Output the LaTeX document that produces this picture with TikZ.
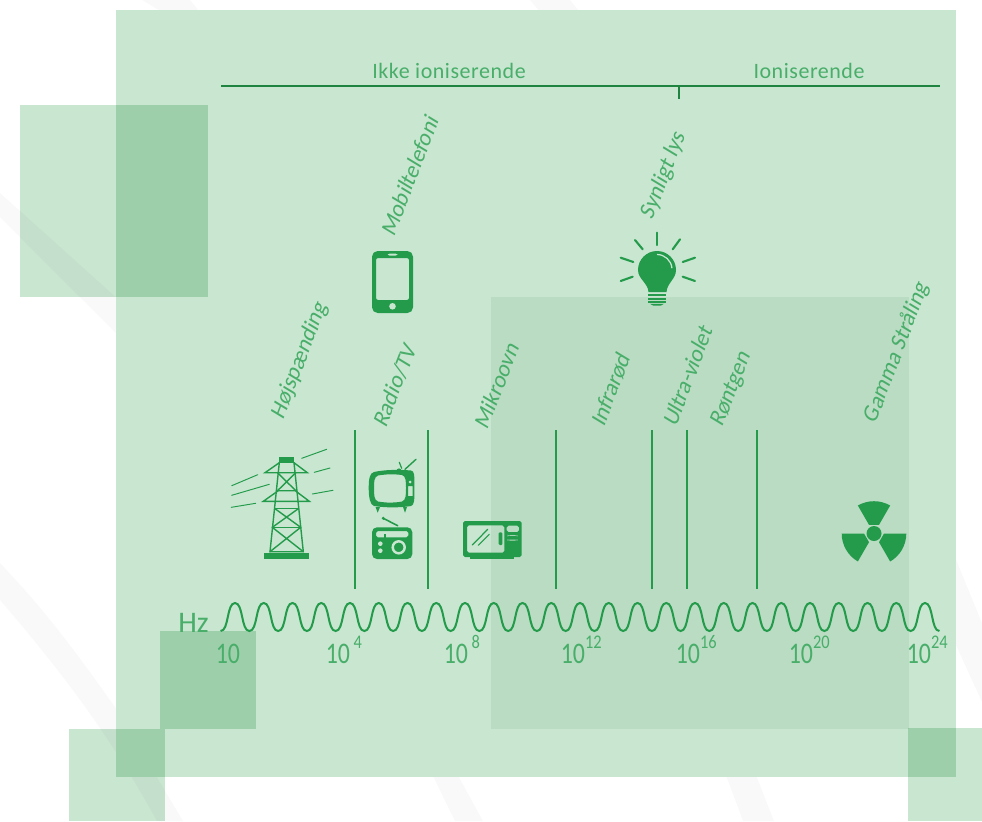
\documentclass[tikz,border=0pt]{standalone}
\usepackage{fontspec}
\usepackage{graphicx}
\setmainfont{Carlito}
\newfontfamily\spaced[LetterSpace=2.5]{Carlito}
\usepackage{xcolor}
\definecolor{leaf}{HTML}{239B4B}
\definecolor{leaftext}{HTML}{48AE69}
\definecolor{pale}{HTML}{C9E6D1}
\definecolor{tint}{HTML}{EBF4EE}
\definecolor{swoosh}{HTML}{F9F9F9}
\newcommand{\ten}{\scalebox{0.8}[1]{10}}
\newcommand{\power}[2][0pt]{\ten\hspace{#1}\raisebox{8.4pt}{\scalebox{0.85}[1]{\fontsize{11}{11}\selectfont #2}}}

\begin{document}
\begin{tikzpicture}[
    x=0.02cm, y=-0.02cm,
    square/.style={fill=pale, blend mode=multiply},
    sep/.style={leaf, line width=1.1pt},
    icon/.style={fill=leaf},
    hole/.style={fill=pale},
    thin line/.style={leaf, line width=0.55pt, line cap=round},
    ray/.style={leaf, line width=1.2pt, line cap=round},
    band/.style={font=\spaced\fontsize{12.5}{12.5}\selectfont, text=leaftext, inner sep=0pt, anchor=base},
    tilted/.style={font=\fontsize{13}{13}\selectfont, text=leaftext, inner sep=0pt, rotate=69, xslant=0.18},
    freq/.style={font=\fontsize{17}{17}\selectfont, text=leaftext, inner sep=0pt, anchor=base west}
]
\path[use as bounding box] (0,0) rectangle (982,821);

% ================================================================
%  Background
% ================================================================
\fill[swoosh] (142,0) -- (190,0) -- (200,12) -- (162,12) -- cycle;
\fill[swoosh] (530,0) -- (570,0) -- (580,12) -- (540,12) -- cycle;
\fill[swoosh] (0,193) -- (130,310) -- (116,333) -- (0,217) -- cycle;
\fill[swoosh] (0,563) .. controls (50,615) and (85,665) .. (115,707) -- (183,821) -- (157,821)
    .. controls (110,735) and (60,670) .. (0,600) -- cycle;
\fill[swoosh] (430,770) -- (455,770) -- (483,821) -- (455,821) -- cycle;
\fill[swoosh] (724,770) -- (754,770) -- (774,821) -- (743,821) -- cycle;
\fill[swoosh] (950,545) -- (982,623) -- (982,702) -- (950,632) -- cycle;

\fill[pale] (116,10) rectangle (956,777);
\fill[square] (20,105) rectangle (208,297);
\fill[square] (160,631) rectangle (256,729);
\fill[square] (69,729) rectangle (165,821);
\fill[square] (908,728) rectangle (982,821);
\fill[tint, blend mode=multiply] (491,297) rectangle (909,729);

% ================================================================
%  Top scale
% ================================================================
\node[band] (ikke) at (449,78) {Ikke ioniserende};
\node[band] (ion) at (809,78) {Ioniserende};
\coordinate (ruleL) at (221,86);
\coordinate (ruleR) at (940,86);
\coordinate (tickA) at (679,86);
\coordinate (tickB) at (679,99);
\draw[sep, line width=1.2pt, black!15!leaf] (ruleL) -- (ruleR);
\draw[sep, black!15!leaf] (tickA) -- (tickB);

% Separators
\foreach \x in {355,428,556,652,687,757} {
    \draw[sep] (\x,430) -- (\x,589);
}

% Labels
\node[tilted] (lHoej) at (300,360) {Højspænding};
\node[tilted] (lMobil) at (410,175) {Mobiltelefoni};
\node[tilted] (lRadio) at (395,385) {Radio/TV};
\node[tilted] (lMikro) at (497,385) {Mikroovn};
\node[tilted] (lInfra) at (611,389) {Infrarød};
\node[tilted] (lUltra) at (688,375) {Ultra-violet};
\node[tilted] (lRoent) at (732,389) {Røntgen};
\node[tilted] (lLys) at (664,175) {Synligt lys};
\node[tilted] (lGamma) at (897,352) {Gamma Stråling};

% ================================================================
%  Wave and frequencies
% ================================================================
\draw[leaf, line width=1.15pt] (220.6,631) \foreach \n in {0,...,24} {
    .. controls ({220.6+28.75*\n+8.5},631) and ({235+28.75*\n-8.5},603) .. ({235+28.75*\n},603)
    .. controls ({235+28.75*\n+8.5},603) and ({249.4+28.75*\n-8.5},631) .. ({249.4+28.75*\n},631)
};
\node[freq] (hz) at (178,632) {Hz};
\node[freq] (f1) at (215.5,663) {\ten};
\node[freq] (f2) at (325.5,663) {\power[2pt]{4}};
\node[freq] (f3) at (443.5,663) {\power[2pt]{8}};
\node[freq] (f4) at (560.5,663) {\power{12}};
\node[freq] (f5) at (675.5,663) {\power{16}};
\node[freq] (f6) at (788.5,663) {\power{20}};
\node[freq] (f7) at (906.5,663) {\power{24}};

% ================================================================
%  Icons
% ================================================================
% Phone
\fill[icon, rounded corners=3.2pt, even odd rule] (372,251) rectangle (413,313)
    [rounded corners=1.2pt] (376,258) rectangle (409,300)
    (387,253.7) rectangle (398,255.5);
\fill[hole] (392.5,306.3) circle (3.3);

% Bulb
\fill[icon] (648.5,292) .. controls (648,283) and (638,279) .. (638,270)
    arc[start angle=180, end angle=360, radius=19]
    .. controls (676,279) and (667,283) .. (666.5,292) -- cycle;
\draw[pale, line width=0.7pt] (657,254.5) arc[start angle=-90, delta angle=85, radius=15];
\fill[icon] (648,294) rectangle (666,296.3);
\fill[icon] (648,297.6) rectangle (666,299.6);
\fill[icon] (648,301) rectangle (666,303);
\fill[icon] (650,303.8) -- (664,303.8) -- (661,305.5) -- (653,305.5) -- cycle;
\draw[ray] (657,232.7) -- (657,245);
\draw[ray] (635,240) -- (642.7,249.3);
\draw[ray] (680,239.3) -- (672.7,249.3);
\draw[ray] (620.7,257.7) -- (633.3,262);
\draw[ray] (695,257.7) -- (682.7,262);
\draw[ray] (620.7,281) -- (632.7,276.7);
\draw[ray] (695,281) -- (682.7,276.7);

% Tower
\fill[icon] (264.3,552.7) rectangle (309,559);
\fill[icon] (279.3,457) rectangle (294,462.7);
\draw[thin line, line width=0.8pt] (279.3,462.7) -- (270,551.7) -- (303.3,551.7) -- (294,462.7);
\draw[thin line, line width=0.8pt] (279.3,462.7) -- (265,472.7) -- (307.3,472.7) -- (294,462.7);
\draw[thin line, line width=0.8pt] (278.3,490.7) -- (263.3,501.3) -- (309.3,501.3) -- (295.3,490.7) -- cycle;
\draw[thin line, line width=0.8pt] (275,508.7) -- (298.3,508.7);
\draw[thin line, line width=0.8pt] (272.3,527.3) -- (300.7,527.3);
\draw[thin line, line width=0.8pt] (277.5,472.7) -- (295.8,490.7) (295.8,472.7) -- (277.5,490.7);
\draw[thin line, line width=0.8pt] (275,508.7) -- (300.7,527.3) (298.3,508.7) -- (272.3,527.3);
\draw[thin line, line width=0.8pt] (272.3,527.3) -- (303.3,551.7) (300.7,527.3) -- (270,551.7);
\draw[thin line] (231.7,485.7) -- (257.7,474.7);
\draw[thin line] (231.7,495.3) -- (269.3,484.3);
\draw[thin line] (231.3,507.3) -- (255.7,503.3);
\draw[thin line] (301.7,458.3) -- (326.7,449.3);
\draw[thin line] (314.3,472.3) -- (330,468);
\draw[thin line] (312.3,494) -- (333,490.3);

% TV
\fill[icon, even odd rule] (374,472) .. controls (385,469.5) and (400,469.5) .. (411,470.5)
    .. controls (414.5,471) and (414.5,475) .. (414.3,488)
    .. controls (414.5,500) and (414.5,505) .. (411,506)
    .. controls (400,507.8) and (385,507.8) .. (374,506)
    .. controls (370,505) and (368.7,497) .. (368.7,488)
    .. controls (368.7,478) and (370,473) .. (374,472) -- cycle
    (378,475.5) .. controls (387,474) and (394,474) .. (402,475)
    .. controls (406,476) and (406,482) .. (406,488)
    .. controls (406,495) and (406,500) .. (402,501.5)
    .. controls (394,503) and (387,503) .. (378,501.5)
    .. controls (374,500) and (374,495) .. (374,488)
    .. controls (374,482) and (374,477) .. (378,475.5) -- cycle
    (408,486) rectangle (412.7,496);
\fill[hole] (410,482) circle (1.5);
\fill[icon] (375.5,507) -- (380,507) -- (377.7,512.7) -- cycle;
\fill[icon] (403,507) -- (407,507) -- (405,512.7) -- cycle;
\fill[icon] (399,471) circle (2.6);
\draw[thin line, line width=0.7pt] (401.7,468.3) -- (399.3,462.3);
\draw[thin line, line width=0.8pt] (405,469.3) -- (416,459.3);

% Radio
\fill[icon, rounded corners=2.8pt, even odd rule] (372,527.3) rectangle (412.3,559)
    [rounded corners=1pt] (376,531) rectangle (408.3,537.3);
\fill[icon] (384,533.5) rectangle (385.5,538);
\fill[hole] (380.3,543.7) circle (2.3);
\fill[hole] (380.3,550.7) circle (2.3);
\draw[pale, line width=1.4pt] (398.7,547.3) circle (6);
\fill[icon] (383.3,518.3) circle (1.7);
\draw[thin line, line width=0.9pt] (383.3,518.3) -- (397.7,525.7);

% Microwave
\fill[icon, even odd rule, rounded corners=1pt] (463,521) rectangle (521.7,557)
    (467,525.3) rectangle (504.3,552.7)
    (506.7,525.7) rectangle (519,532)
    (507.7,535.2) rectangle (517.3,536.2)
    (507.7,539.5) rectangle (517.3,540.5);
\fill[icon] (470,557) rectangle (514,559);
\fill[icon, rounded corners=0.6pt] (498.7,532.3) rectangle (502.3,545);
\draw[thin line, line width=0.7pt] (472.3,545) -- (487.7,529.3);
\draw[thin line, line width=0.7pt] (478.3,545.3) -- (489.3,534.3);

% Radiation sign
\begin{scope}[shift={(874,533.5)}]
    \fill[icon] (0,0) circle (7.5);
    \foreach \a in {-90,30,150} {
        \fill[icon] (\a-30:10) -- (\a-30:32.3)
            arc[start angle=\a-30, end angle=\a+30, radius=32.3]
            -- (\a+30:10) -- cycle;
    }
\end{scope}
\end{tikzpicture}
\end{document}
